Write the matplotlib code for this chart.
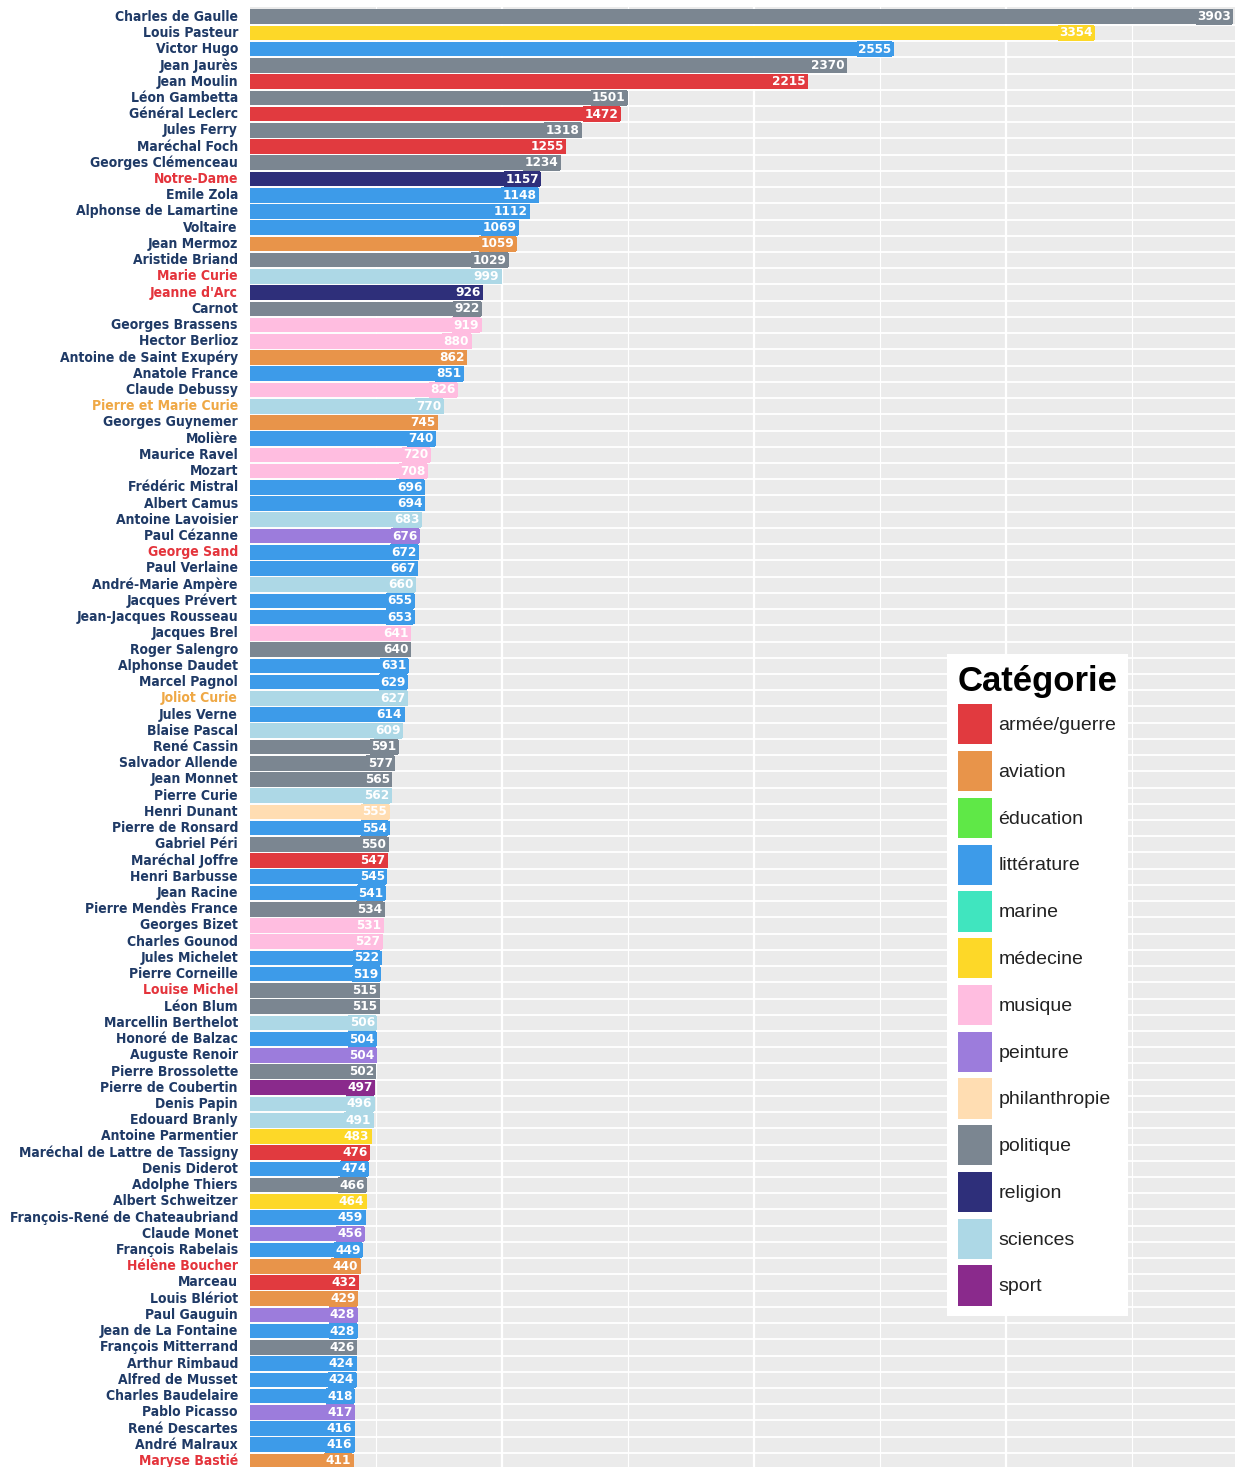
import numpy as np
import matplotlib.pyplot as plt
from matplotlib import font_manager as fm
from matplotlib.patches import Patch

#%% Data
noms = ["Charles de Gaulle", "Louis Pasteur", "Victor Hugo", "Jean Jaurès", "Jean Moulin",
        "Léon Gambetta", "Général Leclerc", "Jules Ferry", "Maréchal Foch", "Georges Clémenceau",
        "Notre-Dame", "Emile Zola", "Alphonse de Lamartine", "Voltaire", "Jean Mermoz",
        "Aristide Briand", "Marie Curie", "Jeanne d'Arc", "Carnot", "Georges Brassens",
        "Hector Berlioz", "Antoine de Saint Exupéry", "Anatole France", "Claude Debussy",
        "Pierre et Marie Curie", "Georges Guynemer", "Molière", "Maurice Ravel", "Mozart",
        "Frédéric Mistral", "Albert Camus", "Antoine Lavoisier", "Paul Cézanne", "George Sand",
        "Paul Verlaine", "André-Marie Ampère", "Jacques Prévert", "Jean-Jacques Rousseau",
        "Jacques Brel", "Roger Salengro", "Alphonse Daudet", "Marcel Pagnol", "Joliot Curie",
        "Jules Verne", "Blaise Pascal", "René Cassin", "Salvador Allende", "Jean Monnet",
        "Pierre Curie", "Henri Dunant", "Pierre de Ronsard", "Gabriel Péri", "Maréchal Joffre",
        "Henri Barbusse", "Jean Racine", "Pierre Mendès France", "Georges Bizet",
        "Charles Gounod", "Jules Michelet", "Pierre Corneille", "Louise Michel", "Léon Blum",
        "Marcellin Berthelot", "Honoré de Balzac", "Auguste Renoir", "Pierre Brossolette",
        "Pierre de Coubertin", "Denis Papin", "Edouard Branly", "Antoine Parmentier",
        "Maréchal de Lattre de Tassigny", "Denis Diderot", "Adolphe Thiers", "Albert Schweitzer",
        "François-René de Chateaubriand", "Claude Monet", "François Rabelais", "Hélène Boucher",
        "Marceau", "Louis Blériot", "Paul Gauguin", "Jean de La Fontaine", "François Mitterrand",
        "Arthur Rimbaud", "Alfred de Musset", "Charles Baudelaire", "Pablo Picasso",
        "René Descartes", "André Malraux", "Maryse Bastié"]

valeurs = [3903, 3354, 2555, 2370, 2215, 1501, 1472, 1318, 1255, 1234,
           1157, 1148, 1112, 1069, 1059, 1029, 999, 926, 922, 919,
           880, 862, 851, 826, 770, 745, 740, 720, 708, 696,
           694, 683, 676, 672, 667, 660, 655, 653, 641, 640,
           631, 629, 627, 614, 609, 591, 577, 565, 562, 555,
           554, 550, 547, 545, 541, 534, 531, 527, 522, 519,
           515, 515, 506, 504, 504, 502, 497, 496, 491, 483,
           476, 474, 466, 464, 459, 456, 449, 440, 432, 429,
           428, 428, 426, 424, 424, 418, 417, 416, 416, 411]

cats = ["politique", "médecine", "littérature", "politique", "armée/guerre",
        "politique", "armée/guerre", "politique", "armée/guerre", "politique",
        "religion", "littérature", "littérature", "littérature", "aviation",
        "politique", "sciences", "religion", "politique", "musique",
        "musique", "aviation", "littérature", "musique", "sciences",
        "aviation", "littérature", "musique", "musique", "littérature",
        "littérature", "sciences", "peinture", "littérature", "littérature",
        "sciences", "littérature", "littérature", "musique", "politique",
        "littérature", "littérature", "sciences", "littérature", "sciences",
        "politique", "politique", "politique", "sciences", "philanthropie",
        "littérature", "politique", "armée/guerre", "littérature", "littérature",
        "politique", "musique", "musique", "littérature", "littérature",
        "politique", "politique", "sciences", "littérature", "peinture",
        "politique", "sport", "sciences", "sciences", "médecine",
        "armée/guerre", "littérature", "politique", "médecine", "littérature",
        "peinture", "littérature", "aviation", "armée/guerre", "aviation",
        "peinture", "littérature", "politique", "littérature", "littérature",
        "littérature", "peinture", "littérature", "littérature", "aviation"]

femmes = ["Notre-Dame", "Marie Curie", "Jeanne d'Arc", "George Sand", "Louise Michel",
          "Hélène Boucher", "Maryse Bastié"]
couples = ["Pierre et Marie Curie", "Joliot Curie"]

categories = ["armée/guerre", "aviation", "éducation", "littérature", "marine", "médecine",
              "musique", "peinture", "philanthropie", "politique", "religion", "sciences", "sport"]
couleurs = ["#E13A3F", "#E8944A", "#5FE847", "#3D9BE9", "#40E5BF", "#FDD828",
            "#FFBDE0", "#9C7CDC", "#FFDDB2", "#7B8691", "#2E2F7A", "#ADD8E6", "#8A2A8C"]
pal = dict(zip(categories, couleurs))


#%% Font: a bold condensed face if one is installed, Roboto bold otherwise
def pick_font():
    narrow_st = ("condensed", "semi-condensed", "extra-condensed", "ultra-condensed")
    for f in fm.fontManager.ttflist:
        st = str(f.stretch)
        narrow = ("Condensed" in f.name or "Narrow" in f.name or st in narrow_st
                  or (st.isdigit() and int(st) < 500))
        w = f.weight if isinstance(f.weight, int) else fm.weight_dict.get(f.weight, 400)
        if narrow and f.style == "normal" and 600 <= w <= 800:
            return fm.FontProperties(fname=f.fname)
    return fm.FontProperties(family="Roboto", weight="bold")


fp = pick_font()

#%% Plot
W, H = 1239, 1467
fig = plt.figure(figsize=(W / 100, H / 100), dpi=100)
ax = fig.add_axes([250 / W, 0, 985 / W, 1460 / H])
ax.set_facecolor("#EBEBEB")

y = np.arange(len(noms))
bar_cols = [pal[c] for c in cats]
ax.barh(y, valeurs, height=0.9, color=bar_cols, zorder=3)

ax.set_xlim(0, 3910)
ax.set_ylim(len(noms) - 1 + 0.37, -0.6)

# grid
for xv in range(500, 4000, 500):
    ax.axvline(xv, color="white", lw=1.6 if xv % 1000 == 0 else 0.8, zorder=1)
for yv in y[:-1]:
    ax.axhline(yv + 0.5, color="white", lw=1.3, zorder=2)
for s in ax.spines.values():
    s.set_visible(False)
ax.set_xticks([])
ax.set_yticks([])

# name labels
name_txt = []
for i, n in enumerate(noms):
    if n in femmes:
        c = "#E4343C"
    elif n in couples:
        c = "#EFA845"
    else:
        c = "#1F3A66"
    t = ax.text(-48, i, n, ha="right", va="center", fontproperties=fp, fontsize=11.5,
                color=c, clip_on=False)
    name_txt.append(t)

# value labels
val_txt = []
for i, v in enumerate(valeurs):
    t = ax.text(v - 10, i, str(v), ha="right", va="center", fontproperties=fp, fontsize=10.5,
                color="white", zorder=5,
                bbox=dict(boxstyle="square,pad=0.1", facecolor=bar_cols[i], edgecolor="none"))
    val_txt.append(t)

# fit the text sizes to the widths seen in the reference
fig.canvas.draw()
r = fig.canvas.get_renderer()
wmax = max(t.get_window_extent(r).width for t in name_txt)
s_name = 11.5 * 230 / wmax
for t in name_txt:
    t.set_fontsize(s_name)
w3903 = val_txt[0].get_window_extent(r).width
s_val = 10.5 * 34 / w3903
for t in val_txt:
    t.set_fontsize(s_val)

# legend
handles = [Patch(facecolor=pal[c], edgecolor="none", label=c) for c in categories]
leg = fig.legend(handles=handles, title="Catégorie", loc="upper left",
                 bbox_to_anchor=(947 / W, 1 - 654 / H), borderaxespad=0,
                 frameon=True, fancybox=False,
                 prop={"family": "Liberation Sans", "size": 14},
                 title_fontproperties={"family": "Liberation Sans", "size": 25, "weight": "bold"},
                 handlelength=1.75, handleheight=2.8, labelspacing=0.34,
                 handletextpad=0.35, borderpad=0.55, alignment="left")
leg.get_frame().set_facecolor("white")
leg.get_frame().set_edgecolor("none")
leg.get_frame().set_alpha(1)
for t in leg.get_texts():
    t.set_color("#222222")

fig.savefig("out.png", dpi=100)
